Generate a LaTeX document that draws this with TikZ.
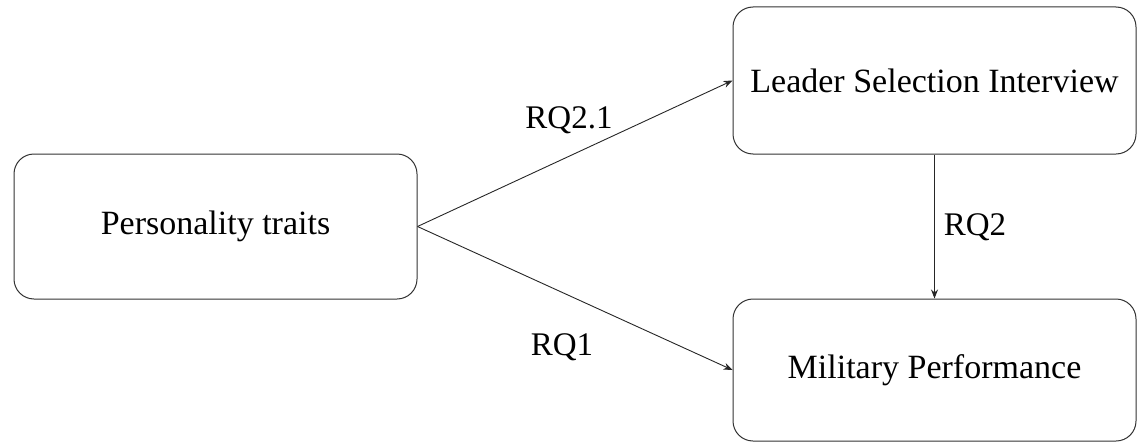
\documentclass[tikz,border=0pt]{standalone}
\usepackage{fontspec}
\setmainfont{Liberation Serif}
\usetikzlibrary{arrows.meta}
\begin{document}
\begin{tikzpicture}[x=1pt,y=-1pt,
  box/.style={draw=black!80, line width=1pt, rounded corners=20pt, fill=white,
    minimum width=403pt, inner sep=0pt, font=\fontsize{34}{40}\selectfont},
  conn/.style={draw=black!85, line width=0.9pt, -{Stealth[length=9pt,width=7pt]}},
  lbl/.style={font=\fontsize{33}{40}\selectfont, inner sep=0pt}]
\useasboundingbox (0,0) rectangle (1140,444);
\node[box, minimum height=145pt] (pt) at (215.5,226.5) {Personality traits};
\node[box, minimum height=147pt] (lsi) at (934.5,80.5) {Leader Selection Interview};
\node[box, minimum height=142pt] (mp) at (934.5,370) {Military Performance};
\draw[conn] (pt.east) -- (lsi.west);
\draw[conn] (pt.east) -- (mp.west);
\draw[conn] (lsi.south) -- (mp.north);
\node[lbl] (l21) at (569,120) {RQ2.1};
\node[lbl] (l1) at (562,347) {RQ1};
\node[lbl] (l2) at (975,227) {RQ2};
\end{tikzpicture}
\end{document}
